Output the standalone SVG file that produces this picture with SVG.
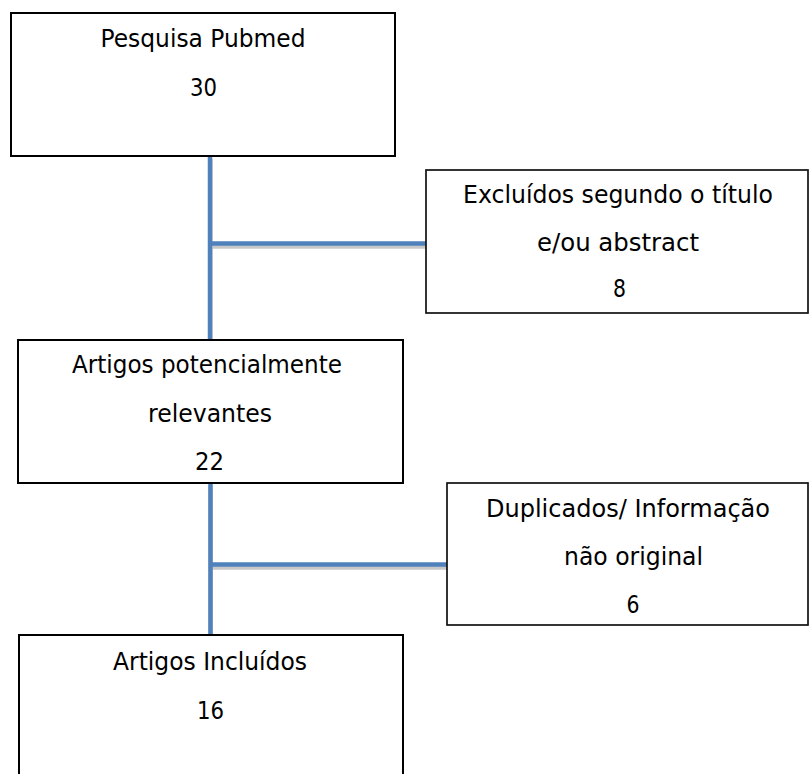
<svg xmlns="http://www.w3.org/2000/svg" width="810" height="774" viewBox="0 0 810 774">
<style>
.box{fill:#fff;stroke:#000;stroke-width:2}
.bx2{fill:#fff;stroke:#111;stroke-width:1.7}
.t{font-family:"DejaVu Sans","Noto Sans",sans-serif;font-size:24px;fill:#000;text-anchor:middle}
.ln{stroke:#4F81BD;stroke-width:4.5;fill:none;stroke-linecap:butt}
.sh{stroke:#c8c8c8;stroke-width:4.5;fill:none}
</style>
<rect width="810" height="774" fill="#fff"/>
<g id="connectors">
<line class="sh" x1="211" y1="246.5" x2="437" y2="246.5"/>
<line class="sh" x1="211" y1="567.5" x2="447" y2="567.5"/>
<line class="sh" x1="210.5" y1="159" x2="210.5" y2="343"/>
<line class="sh" x1="210.5" y1="486" x2="210.5" y2="638"/>
<line class="ln" x1="210" y1="156" x2="210" y2="340"/>
<line class="ln" x1="210" y1="243.5" x2="436" y2="243.5"/>
<line class="ln" x1="210.5" y1="483" x2="210.5" y2="635"/>
<line class="ln" x1="210.5" y1="564.5" x2="447" y2="564.5"/>
</g>
<g id="n1">
<rect class="box" x="11" y="13" width="384" height="143"/>
<text class="t" x="203" y="47" textLength="205" lengthAdjust="spacingAndGlyphs">Pesquisa Pubmed</text>
<text class="t" x="203.5" y="95.5" textLength="27" lengthAdjust="spacingAndGlyphs">30</text>
</g>
<g id="n2">
<rect class="bx2" x="426" y="170" width="382" height="143"/>
<text class="t" x="618" y="203" textLength="310" lengthAdjust="spacingAndGlyphs">Excluídos segundo o título</text>
<text class="t" x="618" y="251" textLength="162" lengthAdjust="spacingAndGlyphs">e/ou abstract</text>
<text class="t" x="619.5" y="297" textLength="13" lengthAdjust="spacingAndGlyphs">8</text>
</g>
<g id="n3">
<rect class="box" x="18" y="340" width="385" height="143"/>
<text class="t" x="207" y="373" textLength="270" lengthAdjust="spacingAndGlyphs">Artigos potencialmente</text>
<text class="t" x="210" y="421.5" textLength="124" lengthAdjust="spacingAndGlyphs">relevantes</text>
<text class="t" x="209.5" y="470" textLength="29" lengthAdjust="spacingAndGlyphs">22</text>
</g>
<g id="n4">
<rect class="bx2" x="447" y="483" width="361" height="142"/>
<text class="t" x="628" y="517" textLength="284" lengthAdjust="spacingAndGlyphs">Duplicados/ Informação</text>
<text class="t" x="633.5" y="565" textLength="139" lengthAdjust="spacingAndGlyphs">não original</text>
<text class="t" x="633" y="613" textLength="13" lengthAdjust="spacingAndGlyphs">6</text>
</g>
<g id="n5">
<rect class="box" x="19" y="635" width="384" height="150"/>
<text class="t" x="210" y="670" textLength="194" lengthAdjust="spacingAndGlyphs">Artigos Incluídos</text>
<text class="t" x="210.5" y="719" textLength="27" lengthAdjust="spacingAndGlyphs">16</text>
</g>
</svg>
